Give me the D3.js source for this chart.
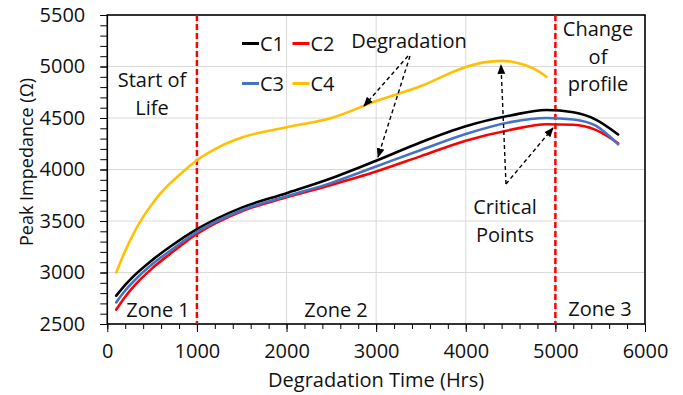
<!DOCTYPE html>
<html>
<head>
<meta charset="utf-8">
<script src="https://cdn.jsdelivr.net/npm/d3@7"></script>
<style>
  html, body { margin: 0; padding: 0; background: #fff; }
  svg { display: block; font-family: "Open Sans", "Noto Sans", sans-serif; }
</style>
</head>
<body>
<svg id="chart" width="683" height="395"></svg>
<script>
// ---- data ----
const hrs = [100, 200, 300, 500, 700, 1000, 1500, 2000, 2500, 3000, 3500, 4000, 4500, 4900, 5200, 5450, 5700];
const c1 = [2775, 2880, 2970, 3120, 3250, 3420, 3630, 3770, 3915, 4085, 4265, 4420, 4525, 4578, 4555, 4485, 4340];
const c2 = [2640, 2765, 2870, 3040, 3180, 3375, 3595, 3730, 3850, 3980, 4130, 4280, 4385, 4440, 4435, 4385, 4255];
const c3 = [2710, 2825, 2920, 3080, 3210, 3395, 3605, 3740, 3870, 4030, 4190, 4345, 4460, 4500, 4485, 4425, 4245];
const hrsC4 = [100, 200, 300, 400, 500, 600, 700, 800, 900, 1000, 1250, 1500, 2000, 2500, 3000, 3500, 4000, 4200, 4400, 4600, 4800, 4900];
const c4 = [3000, 3210, 3390, 3540, 3665, 3775, 3865, 3945, 4020, 4090, 4220, 4310, 4410, 4500, 4665, 4810, 4995, 5040, 5055, 5030, 4960, 4900];
const seriesNames = ["C1", "C2", "C3", "C4"];
const seriesColors = ["#000000", "#ff0000", "#4472c4", "#ffc000"];
const xTicks = [0, 1000, 2000, 3000, 4000, 5000, 6000];
const yTicks = [2500, 3000, 3500, 4000, 4500, 5000, 5500];
const zoneLines = [1000, 5000];

// ---- layout ----
const svg = d3.select("#chart");
const L = 107.3, R = 645, T = 15, B = 324;
const x = d3.scaleLinear().domain([0, 6000]).range([L, R]);
const y = d3.scaleLinear().domain([2500, 5500]).range([B, T]);

// gridlines
const grid = svg.append("g");
grid.selectAll("line.h").data(yTicks.slice(1, -1)).enter().append("line")
  .attr("x1", L).attr("x2", R).attr("y1", d => y(d)).attr("y2", d => y(d))
  .attr("stroke", "#d9d9d9").attr("stroke-width", 1);
grid.selectAll("line.v").data(xTicks.slice(1, -1)).enter().append("line")
  .attr("y1", T).attr("y2", B).attr("x1", d => x(d)).attr("x2", d => x(d))
  .attr("stroke", "#d9d9d9").attr("stroke-width", 1);

// axes
const yAxisMinor = d3.axisLeft(y).tickValues(d3.range(2500, 5501, 100)).tickSize(7).tickFormat("");
svg.append("g").attr("transform", `translate(${L},0)`).call(yAxisMinor)
  .call(g => g.select(".domain").remove())
  .call(g => g.selectAll("line").attr("stroke", "#000").attr("stroke-width", 1));
const xAxisMinor = d3.axisBottom(x).tickValues(d3.range(0, 6001, 200)).tickSize(5).tickFormat("");
svg.append("g").attr("transform", `translate(0,${B})`).call(xAxisMinor)
  .call(g => g.select(".domain").remove())
  .call(g => g.selectAll("line").attr("stroke", "#000").attr("stroke-width", 1));
const xAxisMajor = d3.axisBottom(x).tickValues(xTicks).tickSize(8).tickPadding(12).tickFormat(d3.format("d"));
svg.append("g").attr("transform", `translate(0,${B})`).call(xAxisMajor)
  .call(g => g.select(".domain").remove())
  .call(g => g.selectAll("line").attr("stroke", "#000").attr("stroke-width", 1))
  .call(g => g.selectAll("text").attr("font-size", 20).attr("fill", "#111").attr("font-family", "Open Sans"));
const yAxisMajor = d3.axisLeft(y).tickValues(yTicks).tickSize(7).tickPadding(15).tickFormat(d3.format("d"));
svg.append("g").attr("transform", `translate(${L},0)`).call(yAxisMajor)
  .call(g => g.select(".domain").remove())
  .call(g => g.selectAll("line").attr("stroke", "#000").attr("stroke-width", 1))
  .call(g => g.selectAll("text").attr("font-size", 20).attr("fill", "#111").attr("font-family", "Open Sans"));

// plot border
svg.append("rect").attr("x", L).attr("y", T).attr("width", R - L).attr("height", B - T)
  .attr("fill", "none").attr("stroke", "#000").attr("stroke-width", 1.6);

// zone lines
svg.selectAll("line.zone").data(zoneLines).enter().append("line")
  .attr("x1", d => x(d)).attr("x2", d => x(d)).attr("y1", T).attr("y2", B)
  .attr("stroke", "#ff0000").attr("stroke-width", 2.5).attr("stroke-dasharray", "6,3");

// series
const line = d3.line().x(d => x(d[0])).y(d => y(d[1])).curve(d3.curveMonotoneX);
const seriesData = [
  hrs.map((h, i) => [h, c1[i]]),
  hrs.map((h, i) => [h, c2[i]]),
  hrs.map((h, i) => [h, c3[i]]),
  hrsC4.map((h, i) => [h, c4[i]])
];
seriesData.forEach((d, i) => {
  svg.append("path").datum(d).attr("d", line)
    .attr("fill", "none").attr("stroke", seriesColors[i]).attr("stroke-width", 2.6)
    .attr("stroke-linecap", "round");
});

// legend
const legendPos = [[242, 43.5], [292.5, 43.5], [242, 83.5], [292.5, 83.5]];
seriesNames.forEach((n, i) => {
  const [lx, ly] = legendPos[i];
  svg.append("line").attr("x1", lx).attr("x2", lx + 17).attr("y1", ly).attr("y2", ly)
    .attr("stroke", seriesColors[i]).attr("stroke-width", 3);
  svg.append("text").attr("x", lx + 18).attr("y", ly + 7).attr("font-size", 20).attr("fill", "#111").text(n);
});

// arrow marker
const defs = svg.append("defs");
defs.append("marker").attr("id", "arr").attr("viewBox", "0 0 10 10").attr("refX", 9).attr("refY", 5)
  .attr("markerWidth", 7).attr("markerHeight", 7).attr("orient", "auto-start-reverse")
  .append("path").attr("d", "M0,1 L10,5 L0,9 z").attr("fill", "#000");

const arrows = [
  [408, 56, 364, 106],
  [410, 56, 378, 157],
  [506, 184, 501, 65],
  [506, 184, 553, 128]
];
svg.selectAll("line.arrow").data(arrows).enter().append("line")
  .attr("x1", d => d[0]).attr("y1", d => d[1]).attr("x2", d => d[2]).attr("y2", d => d[3])
  .attr("stroke", "#000").attr("stroke-width", 1.4).attr("stroke-dasharray", "4,3")
  .attr("marker-end", "url(#arr)");

// annotations
function label(lines, cx, y0, dy) {
  lines.forEach((t, i) => {
    svg.append("text").attr("x", cx).attr("y", y0 + i * dy).attr("text-anchor", "middle")
      .attr("font-size", 20).attr("fill", "#111").text(t);
  });
}
label(["Start of", "Life"], 152, 87, 28);
label(["Degradation"], 409, 48, 0);
label(["Change", "of", "profile"], 598, 36, 27.5);
label(["Critical", "Points"], 505, 214, 27.5);
label(["Zone 1"], 158, 317, 0);
label(["Zone 2"], 336, 317, 0);
label(["Zone 3"], 600, 316, 0);

// axis titles
svg.append("text").attr("x", x(3000)).attr("y", 387).attr("text-anchor", "middle")
  .attr("font-size", 20).attr("fill", "#111").text("Degradation Time (Hrs)");
svg.append("text").attr("transform", "translate(33,162) rotate(-90)").attr("text-anchor", "middle")
  .attr("font-size", 18).attr("fill", "#111").text("Peak Impedance (Ω)");
</script>
</body>
</html>
